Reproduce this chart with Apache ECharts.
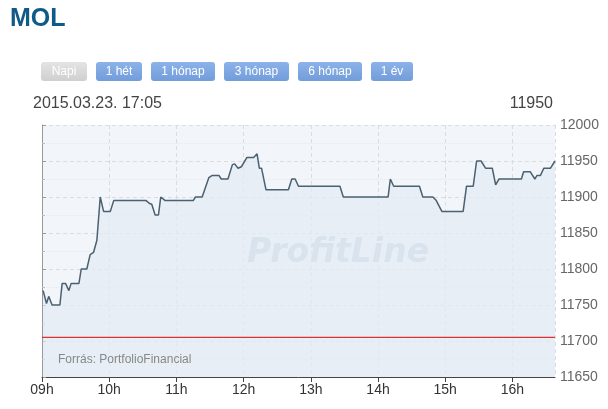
<!DOCTYPE html>
<html>
<head>
<meta charset="utf-8">
<script src="https://cdn.jsdelivr.net/npm/echarts@6/dist/echarts.min.js"></script>
<style>
  html, body { margin: 0; padding: 0; background: #fff; }
  #chart { width: 608px; height: 409px; }
</style>
</head>
<body>
<div id="chart"></div>
<script>
// ---- data (minutes after 09:00, price) ----
var minutes = [1, 4, 6, 9, 16, 18, 21, 24, 26, 33, 35, 40, 43, 46, 49, 52, 55, 61, 64, 93, 96, 98, 101, 104, 106, 110,
  135, 137, 143, 149, 152, 158, 160, 166, 170, 172, 175, 178, 183, 189, 192, 194, 196, 200, 220, 223, 226, 229,
  266, 269, 309, 311, 314, 337, 340, 349, 352, 357, 376, 379, 385, 388, 392, 396, 402, 405, 408, 428, 430, 436,
  440, 442, 445, 448, 454, 458];
var prices = [11770, 11752, 11762, 11750, 11750, 11780, 11780, 11770, 11780, 11780, 11800, 11800, 11820, 11823, 11840, 11900, 11880, 11880, 11895, 11895, 11891, 11890, 11875, 11875, 11900, 11895,
  11895, 11900, 11900, 11927, 11930, 11930, 11925, 11925, 11945, 11946, 11940, 11942, 11955, 11955, 11960, 11940, 11940, 11910, 11910, 11925, 11925, 11915,
  11915, 11900, 11900, 11925, 11915, 11915, 11900, 11900, 11895, 11880, 11880, 11915, 11915, 11950, 11950, 11940, 11940, 11917, 11925, 11925, 11935, 11935,
  11925, 11930, 11930, 11940, 11940, 11950];
var prevClose = 11705;
var xStart = 0;      // 09:00
var xEnd = 458;      // ~16:38
var hourTicks = ['09h', '10h', '11h', '12h', '13h', '14h', '15h', '16h'];
var yTicks = [11650, 11700, 11750, 11800, 11850, 11900, 11950, 12000];
var buttonLabels = ['Napi', '1 hét', '1 hónap', '3 hónap', '6 hónap', '1 év'];
var titleText = 'MOL';
var dateText = '2015.03.23. 17:05';
var lastPriceText = '11950';
var sourceText = 'Forrás: PortfolioFinancial';
var watermarkText = 'ProfitLine';

var seriesData = minutes.map(function (m, i) { return [m, prices[i]]; });
var prevCloseData = [[xStart, prevClose], [xEnd, prevClose]];

// button layout
var btnX = [41, 96, 151, 224, 298, 371];
var btnW = [46, 46, 64, 65, 64, 42];
var graphics = [];
buttonLabels.forEach(function (lab, i) {
  var active = i === 0;
  graphics.push({
    type: 'rect', left: btnX[i], top: 62, z: 10,
    shape: { width: btnW[i], height: 19, r: 3 },
    style: {
      fill: new echarts.graphic.LinearGradient(0, 0, 0, 1, active ?
        [{ offset: 0, color: '#e4e4e4' }, { offset: 1, color: '#cfcfcf' }] :
        [{ offset: 0, color: '#8cb2e8' }, { offset: 1, color: '#729ddb' }])
    }
  });
  graphics.push({
    type: 'text', z: 11,
    x: btnX[i] + btnW[i] / 2, y: 71.5,
    style: { text: lab, fill: '#fff', font: '12px "Liberation Sans", Arial, sans-serif', align: 'center', verticalAlign: 'middle' }
  });
});
graphics.push({
  type: 'text', x: 10, y: 19, z: 10,
  style: { text: titleText, fill: '#105a87', font: 'bold 25px "Liberation Sans", Arial, sans-serif', verticalAlign: 'middle' }
});
graphics.push({
  type: 'text', x: 33, y: 104, z: 10,
  style: { text: dateText, fill: '#444', font: '16px "Liberation Sans", Arial, sans-serif', verticalAlign: 'middle' }
});
graphics.push({
  type: 'text', x: 553, y: 104, z: 10,
  style: { text: lastPriceText, fill: '#444', font: '16px "Liberation Sans", Arial, sans-serif', align: 'right', verticalAlign: 'middle' }
});
graphics.push({
  type: 'text', x: 58, y: 360, z: 10,
  style: { text: sourceText, fill: '#888', font: '12px "Liberation Sans", Arial, sans-serif', verticalAlign: 'middle' }
});
graphics.push({
  type: 'text', x: 338, y: 253, z: 1,
  style: { text: watermarkText, fill: '#bed0df', font: 'italic bold 33px "DejaVu Sans", sans-serif', align: 'center', verticalAlign: 'middle' }
});

var chart = echarts.init(document.getElementById('chart'), null, { renderer: 'canvas' });
chart.setOption({
  animation: false,
  backgroundColor: '#fff',
  graphic: graphics,
  grid: {
    left: 42, right: 53, top: 125, bottom: 32,
    show: true, backgroundColor: '#f2f5f9', borderWidth: 0
  },
  xAxis: {
    type: 'value', min: xStart, max: xEnd, interval: 60,
    axisLine: { show: true, lineStyle: { color: '#444', width: 1 } },
    axisTick: { show: true, length: 5, lineStyle: { color: '#444' } },
    axisLabel: {
      color: '#333', fontSize: 14, fontFamily: '"Liberation Sans", Arial, sans-serif', margin: 6,
      showMaxLabel: false,
      formatter: function (v) { var i = Math.round(v / 60); return hourTicks[i] !== undefined && v % 60 === 0 ? hourTicks[i] : ''; }
    },
    splitLine: { show: true, lineStyle: { color: '#d8dde3', type: [4, 3] } }
  },
  yAxis: {
    type: 'value', position: 'right', min: yTicks[0], max: yTicks[yTicks.length - 1], interval: 50,
    axisLine: { show: true, lineStyle: { color: '#999' } },
    axisTick: { show: true, inside: false, length: 4, lineStyle: { color: '#999' } },
    minorTick: { show: true, splitNumber: 2, length: 3, lineStyle: { color: '#bbb' } },
    axisLabel: {
      color: '#666', fontSize: 14, fontFamily: '"Liberation Sans", Arial, sans-serif', margin: 5,
      formatter: function (v) { return String(v); }
    },
    splitLine: { show: true, lineStyle: { color: '#d8dde3', type: [4, 3] } },
    minorSplitLine: { show: true, lineStyle: { color: '#e6eaef', type: 'dotted' } }
  },
  series: [{
    type: 'line',
    data: seriesData,
    showSymbol: false,
    symbol: 'none',
    lineStyle: { color: '#4b6070', width: 1.5 },
    areaStyle: { color: '#e3ebf4', origin: 'start' },
    z: 3
  }, {
    type: 'line',
    data: prevCloseData,
    showSymbol: false,
    symbol: 'none',
    silent: true,
    color: '#e03030',
    lineStyle: { color: '#e03030', width: 1.3 },
    z: 4
  }]
});
</script>
</body>
</html>
